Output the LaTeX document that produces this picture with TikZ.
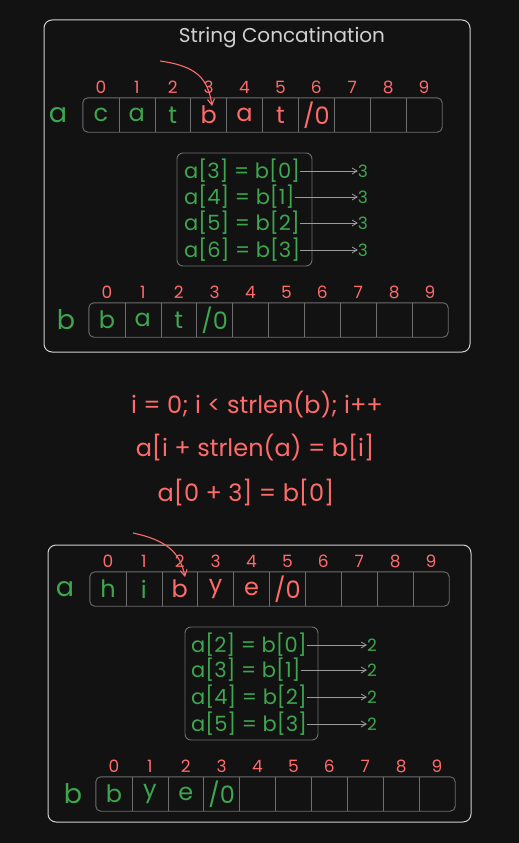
\documentclass[tikz,border=0pt]{standalone}
\usepackage{fontspec}
\setmainfont{Poppins}
\usepackage{xcolor}
\usepackage{tikz}
\usetikzlibrary{positioning,arrows.meta,fit}

\definecolor{bgdark}{HTML}{121212}
\definecolor{chalk}{HTML}{D0D0D0}
\definecolor{cellgray}{HTML}{6E6E6E}
\definecolor{linkgray}{HTML}{9C9C9C}
\definecolor{grn}{HTML}{3DA64F}
\definecolor{rd}{HTML}{FF6B6B}

\begin{document}
\begin{tikzpicture}[x=1pt, y=-1pt,
  panel/.style={draw=chalk, line width=1pt, rounded corners=8pt},
  cell/.style={minimum width=35.9pt, minimum height=34pt, inner sep=0pt, font=\fontsize{24}{26}\selectfont},
  arraybox/.style={draw=cellgray, line width=0.9pt, rounded corners=5pt, inner sep=0pt},
  divider/.style={draw=cellgray, line width=0.9pt},
  idx/.style={text=rd, inner sep=0pt, font=\fontsize{17}{19}\selectfont},
  arrname/.style={text=grn, inner sep=0pt, font=\fontsize{27}{29}\selectfont},
  eqn/.style={text=grn, anchor=west, inner sep=0pt, font=\fontsize{21}{23}\selectfont},
  count/.style={text=grn, inner sep=0pt, font=\fontsize{17}{19}\selectfont},
  mapbox/.style={draw=cellgray, line width=0.9pt, rounded corners=6pt},
  link/.style={draw=linkgray, line width=0.8pt, -{Straight Barb[length=5pt, width=6pt]}},
  ptr/.style={draw=rd, line width=1.1pt, -{Straight Barb[length=6pt, width=7pt]}},
  code/.style={text=rd, font=\fontsize{24}{27}\selectfont}]

  % Background and page size
  \fill[bgdark] (0,0) rectangle (519,843);
  \useasboundingbox (0,0) rectangle (519,843);

  % ---------- Top panel ----------
  \draw[panel] (44,20) rectangle (470,352);
  \node[text=chalk, font=\fontsize{20}{23}\selectfont] (title) at (282,38) {String Concatination};

  % array a = "catbat"
  \foreach \ch/\col [count=\i from 0] in {c/grn, a/grn, t/grn, b/rd, a/rd, t/rd, {/0}/rd, {}/rd, {}/rd, {}/rd}
    \node[cell, text=\col] (a\i) at ({83+35.9*\i+17.95},115) {\ch};
  \node[arraybox, fit=(a0)(a9)] (arrA) {};
  \foreach \i in {0,...,8}
    \draw[divider] (a\i.north east) -- (a\i.south east);
  \foreach \i in {0,...,9}
    \node[idx, above=4pt of a\i] (ia\i) {\i};
  \node[arrname, left=15pt of arrA] (nameA) {a};

  % pointer into a[3]
  \coordinate (ptrA) at (160,61);
  \coordinate (tipA) at (212,106);
  \draw[ptr] (ptrA) .. controls (196,66) and (208,78) .. (tipA);

  % copy map
  \node[mapbox, minimum width=135pt, minimum height=113pt] (mapA) at (244.5,209.5) {};
  \node[eqn] (eqA0) at (184,171) {a[3] = b[0]};
  \node[eqn] (eqA1) at (184,197) {a[4] = b[1]};
  \node[eqn] (eqA2) at (184,223) {a[5] = b[2]};
  \node[eqn] (eqA3) at (184,250) {a[6] = b[3]};
  \foreach \r/\y in {0/171, 1/197, 2/223, 3/250} {
    \node[count] (cntA\r) at (363,\y) {3};
    \draw[link] (eqA\r.east) -- (cntA\r.west);
  }

  % array b = "bat"
  \foreach \ch [count=\i from 0] in {b, a, t, {/0}, {}, {}, {}, {}, {}, {}}
    \node[cell, text=grn] (b\i) at ({89+35.9*\i+17.95},320) {\ch};
  \node[arraybox, fit=(b0)(b9)] (arrB) {};
  \foreach \i in {0,...,8}
    \draw[divider] (b\i.north east) -- (b\i.south east);
  \foreach \i in {0,...,9}
    \node[idx, above=4pt of b\i] (ib\i) {\i};
  \node[arrname, left=13pt of arrB] (nameB) {b};

  % ---------- Loop ----------
  \node[code] (loopLine) at (257,405) {i = 0; i < strlen(b); i++};
  \node[code] (ruleLine) at (255,448) {a[i + strlen(a) = b[i]};
  \node[code] (firstLine) at (246,493) {a[0 + 3] = b[0]};

  % ---------- Bottom panel ----------
  \draw[panel] (48,545) rectangle (471,822);

  % array a = "hibye"
  \foreach \ch/\col [count=\i from 0] in {h/grn, i/grn, b/rd, y/rd, e/rd, {/0}/rd, {}/rd, {}/rd, {}/rd, {}/rd}
    \node[cell, text=\col] (c\i) at ({90+35.9*\i+17.95},589) {\ch};
  \node[arraybox, fit=(c0)(c9)] (arrC) {};
  \foreach \i in {0,...,8}
    \draw[divider] (c\i.north east) -- (c\i.south east);
  \foreach \i in {0,...,9}
    \node[idx, above=4pt of c\i] (ic\i) {\i};
  \node[arrname, left=15pt of arrC] (nameC) {a};

  % pointer into a[2]
  \coordinate (ptrC) at (133,533);
  \coordinate (tipC) at (185,577);
  \draw[ptr] (ptrC) .. controls (166,540) and (180,552) .. (tipC);

  % copy map
  \node[mapbox, minimum width=133pt, minimum height=113pt] (mapC) at (251.5,683.5) {};
  \node[eqn] (eqC0) at (191,645) {a[2] = b[0]};
  \node[eqn] (eqC1) at (191,670) {a[3] = b[1]};
  \node[eqn] (eqC2) at (191,697) {a[4] = b[2]};
  \node[eqn] (eqC3) at (191,724) {a[5] = b[3]};
  \foreach \r/\y in {0/645, 1/670, 2/697, 3/724} {
    \node[count] (cntC\r) at (372,\y) {2};
    \draw[link] (eqC\r.east) -- (cntC\r.west);
  }

  % array b = "bye"
  \foreach \ch [count=\i from 0] in {b, y, e, {/0}, {}, {}, {}, {}, {}, {}}
    \node[cell, text=grn] (d\i) at ({96+35.9*\i+17.95},794) {\ch};
  \node[arraybox, fit=(d0)(d9)] (arrD) {};
  \foreach \i in {0,...,8}
    \draw[divider] (d\i.north east) -- (d\i.south east);
  \foreach \i in {0,...,9}
    \node[idx, above=4pt of d\i] (id\i) {\i};
  \node[arrname, left=13pt of arrD] (nameD) {b};

\end{tikzpicture}
\end{document}
